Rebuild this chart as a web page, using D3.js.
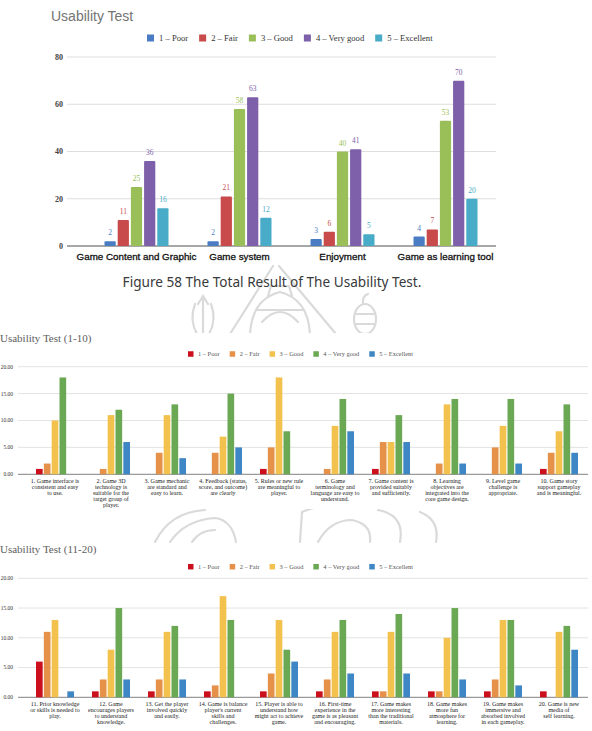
<!DOCTYPE html>
<html>
<head>
<meta charset="utf-8">
<script src="https://cdn.jsdelivr.net/npm/d3@7"></script>
<style>
  body { margin: 0; background: #fff; }
  svg { display: block; }
</style>
</head>
<body>
<div id="page"></div>
<script>
// ---- data ----
var levels = ["1 – Poor", "2 – Fair", "3 – Good", "4 – Very good", "5 – Excellent"];

var totalCategories = ["Game Content and Graphic", "Game system", "Enjoyment", "Game as learning tool"];
var totalValues = [
  [2, 11, 25, 36, 16],
  [2, 21, 58, 63, 12],
  [3, 6, 40, 41, 5],
  [4, 7, 53, 70, 20]
];
var totalTicks = [0, 20, 40, 60, 80];

var questions1 = [
  ["1. Game interface is", "consistent and easy", "to use."],
  ["2. Game 3D", "technology is", "suitable for the", "target group of", "player."],
  ["3. Game mechanic", "are standard and", "easy to learn."],
  ["4. Feedback (status,", "score, and outcome)", "are clearly"],
  ["5. Rules or new rule", "are meaningful to", "player."],
  ["6. Game", "terminology and", "language are easy to", "understand."],
  ["7. Game content is", "provided suitably", "and sufficiently."],
  ["8. Learning", "objectives are", "integrated into the", "core game design."],
  ["9. Level game", "challenge is", "appropriate."],
  ["10. Game story", "support gameplay", "and is meaningful."]
];
var values1 = [
  [1, 2, 10, 18, 0],
  [0, 1, 11, 12, 6],
  [0, 4, 11, 13, 3],
  [0, 4, 7, 15, 5],
  [1, 5, 18, 8, 0],
  [0, 1, 9, 14, 8],
  [1, 6, 6, 11, 6],
  [0, 2, 13, 14, 2],
  [0, 5, 9, 14, 2],
  [1, 4, 8, 13, 4]
];

var questions2 = [
  ["11. Prior knowledge", "or skills is needed to", "play."],
  ["12. Game", "encourages players", "to understand", "knowledge."],
  ["13. Get the player", "involved quickly", "and easily."],
  ["14. Game is balance", "player's current", "skills and", "challenges."],
  ["15. Player is able to", "understand how", "might act to achieve", "game."],
  ["16. First-time", "experience in the", "game is as pleasant", "and encouraging."],
  ["17. Game makes", "more interesting", "than the traditional", "materials."],
  ["18. Game makes", "more fun", "atmosphere for", "learning."],
  ["19. Game makes", "immersive and", "absorbed involved", "in each gameplay."],
  ["20. Game is new", "media of", "self learning."]
];
var values2 = [
  [6, 11, 13, 0, 1],
  [1, 3, 8, 15, 3],
  [1, 3, 11, 12, 3],
  [1, 2, 17, 13, 0],
  [1, 4, 13, 8, 6],
  [1, 3, 11, 13, 4],
  [1, 1, 11, 14, 4],
  [1, 1, 10, 15, 3],
  [1, 3, 13, 13, 2],
  [1, 0, 11, 12, 8]
];
var detailTicks = [0, 5, 10, 15, 20];

var totalColors = ["#4a7cc3", "#c94a4a", "#9bbf58", "#7e5fa9", "#48abc7"];
var detailColors = ["#cc0f1d", "#e6914a", "#f2c14e", "#6aa853", "#3f86c4"];

var serif = "'Liberation Serif', 'DejaVu Serif', serif";
var sans = "'Liberation Sans', Arial, sans-serif";

var svg = d3.select("#page").append("svg")
  .attr("width", 592)
  .attr("height", 731);

svg.append("rect").attr("width", 592).attr("height", 731).attr("fill", "#fff");

// faint seal watermark behind everything
var wm = svg.append("g")
  .attr("fill", "none")
  .attr("stroke", "#dadada")
  .attr("stroke-width", 2.2)
  .attr("stroke-linecap", "round");
wm.append("path").attr("d", "M273,266 L230,334 M279,266 L336,334");
wm.append("path").attr("d", "M250,334 Q252,299 280,292 Q308,299 310,334");
wm.append("path").attr("d", "M268,296 L271,286 L289,286 L292,296 M262,322 Q280,302 298,322 M256,310 L304,310");
wm.append("path").attr("d", "M203,297 L203,334 M195,304 Q189,320 197,334 M211,304 Q217,320 209,334 M198,304 L203,296 L208,304");
wm.append("ellipse").attr("cx", 365).attr("cy", 319).attr("rx", 11).attr("ry", 15);
wm.append("path").attr("d", "M363,304 Q362,296 368,294 M356,314 L374,314 M355,324 L375,324");
wm.append("path").attr("d", "M155,542 Q170,512 205,510 M170,542 Q185,520 215,518 Q232,520 236,542 M192,542 Q200,530 215,530");
wm.append("path").attr("d", "M300,542 L302,512 Q330,500 358,508 M318,542 Q330,520 352,520 Q372,524 370,542 M378,510 Q405,515 400,542 M420,512 Q440,520 436,542");

// ---- chart 1: total result ----
svg.append("text")
  .attr("x", 51).attr("y", 21)
  .attr("font-family", sans).attr("font-size", 14)
  .attr("fill", "#747474")
  .text("Usability Test");

function drawLegend(x0, y, colors, size, fontSize, textGap, itemGap, textFill) {
  var x = x0;
  levels.forEach(function(name, i) {
    svg.append("rect")
      .attr("x", x).attr("y", y - size / 2)
      .attr("width", size).attr("height", size)
      .attr("fill", colors[i]);
    var t = svg.append("text")
      .attr("x", x + textGap).attr("y", y)
      .attr("dy", "0.35em")
      .attr("font-family", serif).attr("font-size", fontSize)
      .attr("fill", textFill)
      .text(name);
    x = x + textGap + t.node().getComputedTextLength() + itemGap;
  });
}
drawLegend(147, 38, totalColors, 7, 8.6, 12, 11, "#333");

var y1 = d3.scaleLinear().domain([0, 80]).range([246, 57]);
var x1 = d3.scaleBand().domain(totalCategories).range([85, 497]);
var sub1 = d3.scaleBand().domain(levels).range([0, 64]).paddingInner(0.15);

var g1 = svg.append("g");
g1.selectAll(".grid").data(totalTicks).enter().append("line")
  .attr("x1", 67).attr("x2", 496)
  .attr("y1", function(d) { return y1(d); })
  .attr("y2", function(d) { return y1(d); })
  .attr("stroke", function(d) { return d === 0 ? "#8a8a8a" : "#dedede"; })
  .attr("stroke-width", function(d) { return d === 0 ? 1.6 : 1; });
g1.selectAll(".ytick").data(totalTicks).enter().append("text")
  .attr("x", 63).attr("y", function(d) { return y1(d); })
  .attr("dy", "0.35em").attr("text-anchor", "end")
  .attr("font-family", serif).attr("font-size", 8).attr("font-weight", "bold")
  .attr("fill", "#444")
  .text(function(d) { return d; });

totalCategories.forEach(function(cat, ci) {
  var gx = x1(cat) + x1.bandwidth() / 2 - 32;
  totalValues[ci].forEach(function(v, si) {
    var bx = gx + sub1(levels[si]);
    g1.append("rect")
      .attr("x", bx).attr("y", y1(v))
      .attr("width", sub1.bandwidth()).attr("height", y1(0) - y1(v))
      .attr("rx", 1)
      .attr("fill", totalColors[si]);
    g1.append("text")
      .attr("x", bx + sub1.bandwidth() / 2).attr("y", y1(v) - 6)
      .attr("text-anchor", "middle")
      .attr("font-family", serif).attr("font-size", 7.5)
      .attr("fill", totalColors[si])
      .text(v);
  });
  g1.append("text")
    .attr("x", x1(cat) + x1.bandwidth() / 2).attr("y", 260)
    .attr("text-anchor", "middle")
    .attr("font-family", sans).attr("font-size", 9.8)
    .attr("fill", "#111").attr("stroke", "#111").attr("stroke-width", 0.3)
    .text(cat);
});

svg.append("text")
  .attr("x", 272).attr("y", 287)
  .attr("text-anchor", "middle")
  .attr("font-family", "'Noto Sans', sans-serif").attr("font-size", 13.6)
  .attr("fill", "#3a3a3a")
  .text("Figure 58 The Total Result of The Usability Test.");

// ---- detail charts ----
function drawDetail(top, bottom, yZero, yTwenty, title, titleY, legendY, questions, values) {
  svg.append("rect").attr("x", 0).attr("y", top).attr("width", 592).attr("height", bottom - top).attr("fill", "#fff");

  svg.append("text")
    .attr("x", 0).attr("y", titleY)
    .attr("font-family", serif).attr("font-size", 11)
    .attr("fill", "#5e5e5e")
    .text(title);

  drawLegend(188, legendY, detailColors, 5.5, 6.4, 10, 10, "#555");

  var y = d3.scaleLinear().domain([0, 20]).range([yZero, yTwenty]);
  var x = d3.scaleBand().domain(d3.range(questions.length)).range([27, 587]);
  var sub = d3.scaleBand().domain(levels).range([0, 38]).paddingInner(0.15);

  var g = svg.append("g");
  g.selectAll(".grid").data(detailTicks).enter().append("line")
    .attr("x1", 18).attr("x2", 588)
    .attr("y1", function(d) { return y(d); })
    .attr("y2", function(d) { return y(d); })
    .attr("stroke", function(d) { return d === 0 ? "#9a9a9a" : "#e3e3e3"; })
    .attr("stroke-width", function(d) { return d === 0 ? 1.2 : 1; });
  g.selectAll(".ytick").data(detailTicks).enter().append("text")
    .attr("x", 13).attr("y", function(d) { return y(d); })
    .attr("dy", "0.35em").attr("text-anchor", "end")
    .attr("font-family", serif).attr("font-size", 5.5)
    .attr("fill", "#333")
    .text(function(d) { return d3.format(".2f")(d); });

  values.forEach(function(row, qi) {
    var gx = x(qi) + x.bandwidth() / 2 - 19;
    row.forEach(function(v, si) {
      if (v === 0) return;
      g.append("rect")
        .attr("x", gx + sub(levels[si])).attr("y", y(v))
        .attr("width", sub.bandwidth()).attr("height", y(0) - y(v))
        .attr("fill", detailColors[si]);
    });
    var lab = g.append("text")
      .attr("text-anchor", "middle")
      .attr("font-family", serif).attr("font-size", 6)
      .attr("fill", "#222");
    questions[qi].forEach(function(line, li) {
      lab.append("tspan")
        .attr("x", x(qi) + x.bandwidth() / 2)
        .attr("y", yZero + 9 + li * 5.9)
        .text(line);
    });
  });
}

drawDetail(333, 509, 474.3, 366.7, "Usability Test (1-10)", 342, 354, questions1, values1);
drawDetail(543, 731, 697.3, 578.3, "Usability Test (11-20)", 553, 566.7, questions2, values2);
</script>
</body>
</html>
